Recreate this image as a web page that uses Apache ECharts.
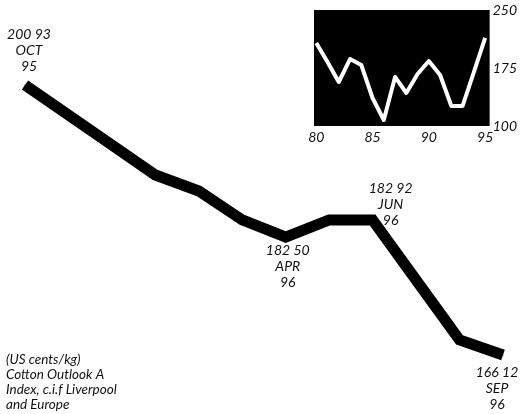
<!DOCTYPE html>
<html>
<head>
<meta charset="utf-8">
<script src="https://cdn.jsdelivr.net/npm/echarts@6/dist/echarts.min.js"></script>
<style>html,body{margin:0;padding:0;background:#fff}#c{width:520px;height:414px}</style>
</head>
<body>
<div id="c"></div>
<script>
const months = ['OCT','NOV','DEC','JAN','FEB','MAR','APR','MAY','JUN','JUL','AUG','SEP'];
const monthYears = ['95','95','95','96','96','96','96','96','96','96','96','96'];
const prices = [200.93,197.06,193.20,189.33,187.26,183.53,181.33,183.53,183.53,175.80,168.06,166.12];
const priceLabels = ['200 93','','','','','','182 50','','182 92','','','166 12'];
const insetYears = [80,81,82,83,84,85,86,87,88,89,90,91,92,93,94,95];
const insetValues = [207.3,182.8,156.9,186.6,178.9,136.2,107.8,163.4,142.7,167.2,184.0,166.0,125.9,125.9,169.8,213.8];
const insetXTicks = [80,85,90,95];
const noteLines = ['(US cents/kg)','Cotton Outlook A','Index, c.i.f Liverpool','and Europe'];

const FONT = 'Lato';
const labelStyles = {
  0: {position:'top', distance:10, offset:[4,0]},
  6: {position:'bottom', distance:5, offset:[2,0]},
  8: {position:'top', distance:1, offset:[18,10]},
  11:{position:'bottom', distance:9, offset:[-6,0]}
};

const mainData = prices.map((v,i)=>{
  if(!priceLabels[i]) return v;
  const s = labelStyles[i];
  return {value:v, label:{show:true, position:s.position, distance:s.distance, offset:s.offset,
    formatter: priceLabels[i] + '\n' + months[i] + '\n' + monthYears[i],
    fontFamily:FONT, fontStyle:'italic', fontSize:14, lineHeight:16, color:'#111', align:'center'}};
});

const chart = echarts.init(document.getElementById('c'), null, {renderer:'canvas'});
chart.setOption({
  animation:false,
  backgroundColor:'#fff',
  grid:[
    {left:25, right:17, top:14.6, bottom:11.5, show:false},
    {left:314, right:28, top:10, bottom:288, show:true, backgroundColor:'#000', borderWidth:0}
  ],
  xAxis:[
    {type:'category', gridIndex:0, data:months, boundaryGap:false, show:false},
    {type:'value', gridIndex:1, min:79.8, max:95.4,
      axisLine:{show:false}, axisTick:{show:false}, splitLine:{show:false},
      axisLabel:{customValues:insetXTicks, margin:4, fontFamily:FONT, fontStyle:'italic', fontSize:14, color:'#111'}}
  ],
  yAxis:[
    {type:'value', gridIndex:0, min:160, max:210, show:false},
    {type:'value', gridIndex:1, position:'right', min:100, max:250, interval:75,
      axisLine:{show:false}, axisTick:{show:false}, splitLine:{show:false},
      axisLabel:{margin:3, fontFamily:FONT, fontStyle:'italic', fontSize:14, color:'#111'}}
  ],
  series:[
    {type:'line', xAxisIndex:0, yAxisIndex:0, data:mainData, symbol:'circle', symbolSize:1,
      itemStyle:{color:'#000'},
      lineStyle:{color:'#000', width:11, cap:'butt', join:'miter'}},
    {type:'line', xAxisIndex:1, yAxisIndex:1, data:insetYears.map((y,i)=>[y,insetValues[i]]),
      symbol:'none', lineStyle:{color:'#fff', width:4, join:'round', cap:'butt'}}
  ],
  graphic:[{
    type:'text', left:6, top:352,
    style:{text:noteLines.join('\n'), font:'italic 13.5px Lato', lineHeight:15, fill:'#111'}
  }]
});
</script>
</body>
</html>
